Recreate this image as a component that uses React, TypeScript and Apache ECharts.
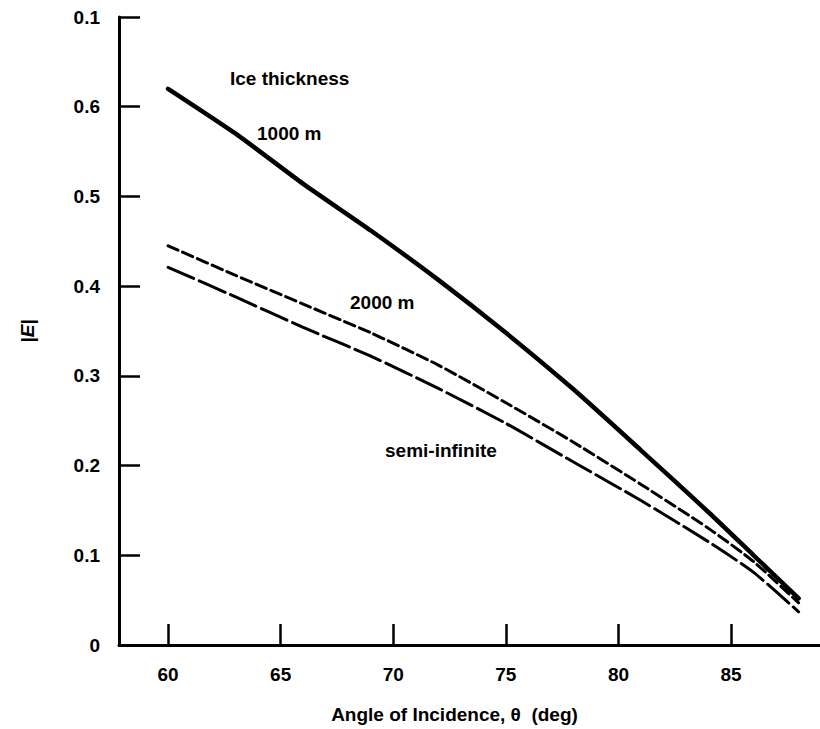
import React, { useEffect, useRef } from "react";
import * as echarts from "echarts";

const angles = [60, 63, 66, 69, 72, 75, 78, 81, 84, 86, 88];
const thick1000 = [0.62, 0.57, 0.514, 0.462, 0.407, 0.348, 0.285, 0.217, 0.148, 0.1, 0.052];
const thick2000 = [0.445, 0.412, 0.38, 0.348, 0.312, 0.27, 0.226, 0.179, 0.13, 0.093, 0.047];
const semiInfinite = [0.421, 0.388, 0.354, 0.322, 0.286, 0.247, 0.204, 0.161, 0.115, 0.081, 0.037];

const xTicks = [60, 65, 70, 75, 80, 85];
const yTicks = [0, 0.1, 0.2, 0.3, 0.4, 0.5, 0.6, 0.7];
const yTickLabels = ["0", "0.1", "0.2", "0.3", "0.4", "0.5", "0.6", "0.1"];

const FONT = "Liberation Sans, Arial, Helvetica, sans-serif";

export default function App() {
  const ref = useRef<HTMLDivElement>(null);
  useEffect(() => {
    document.body.style.margin = "0";
    const chart = echarts.init(ref.current!, null, { renderer: "svg" });
    const toPts = (ys: number[]) => angles.map((a, i) => [a, ys[i]]);
    const lineStyleBase = { color: "#000", cap: "round", join: "round" };
    const label = (text: string, x: number, y: number) => ({
      type: "text",
      x,
      y,
      style: {
        text,
        fill: "#000",
        font: `bold 19px ${FONT}`,
        textAlign: "left",
        textVerticalAlign: "middle",
      },
    });
    chart.setOption({
      animation: false,
      backgroundColor: "#fff",
      grid: { left: 119, right: 0, top: 17, bottom: 81 },
      xAxis: {
        type: "value",
        min: 57.82,
        max: 88.95,
        name: "Angle of Incidence, θ  (deg)",
        nameLocation: "middle",
        nameGap: 60,
        nameTextStyle: {
          color: "#000",
          fontFamily: FONT,
          fontWeight: "bold",
          fontSize: 19,
          padding: [0, 30, 0, 0],
        },
        axisLine: { show: true, lineStyle: { color: "#000", width: 3 } },
        axisTick: {
          show: true,
          inside: true,
          length: 21,
          lineStyle: { color: "#000", width: 2.5 },
          customValues: xTicks,
        },
        axisLabel: {
          color: "#000",
          fontFamily: FONT,
          fontWeight: "bold",
          fontSize: 19,
          margin: 20,
          customValues: xTicks,
        },
        splitLine: { show: false },
      },
      yAxis: {
        type: "value",
        min: 0,
        max: 0.7,
        interval: 0.1,
        name: "|E|",
        nameLocation: "middle",
        nameGap: 82,
        nameRotate: 90,
        nameTextStyle: {
          color: "#000",
          fontFamily: FONT,
          fontWeight: "bold",
          fontStyle: "italic",
          fontSize: 19,
        },
        axisLine: { show: true, lineStyle: { color: "#000", width: 3 } },
        axisTick: {
          show: true,
          inside: true,
          length: 21,
          lineStyle: { color: "#000", width: 2.5 },
        },
        axisLabel: {
          color: "#000",
          fontFamily: FONT,
          fontWeight: "bold",
          fontSize: 19,
          margin: 19,
          formatter: (v: number) => {
            const idx = yTicks.findIndex((t) => Math.abs(t - v) < 1e-6);
            return idx >= 0 ? yTickLabels[idx] : "";
          },
        },
        splitLine: { show: false },
      },
      series: [
        {
          name: "1000 m",
          type: "line",
          data: toPts(thick1000),
          showSymbol: false,
          smooth: 0.2,
          lineStyle: { ...lineStyleBase, width: 4.5, type: "solid" },
        },
        {
          name: "2000 m",
          type: "line",
          data: toPts(thick2000),
          showSymbol: false,
          smooth: 0.2,
          lineStyle: { ...lineStyleBase, width: 3, type: [11, 5] },
        },
        {
          name: "semi-infinite",
          type: "line",
          data: toPts(semiInfinite),
          showSymbol: false,
          smooth: 0.2,
          lineStyle: { ...lineStyleBase, width: 3, type: [28, 6] },
        },
      ],
      graphic: [
        label("Ice thickness", 230, 78),
        label("1000 m", 257, 133),
        label("2000 m", 350, 302),
        label("semi-infinite", 385, 450),
      ],
    });
    return () => chart.dispose();
  }, []);
  return (
    <div
      ref={ref}
      style={{ position: "absolute", left: 0, top: 0, width: 820, height: 729, background: "#fff" }}
    />
  );
}
